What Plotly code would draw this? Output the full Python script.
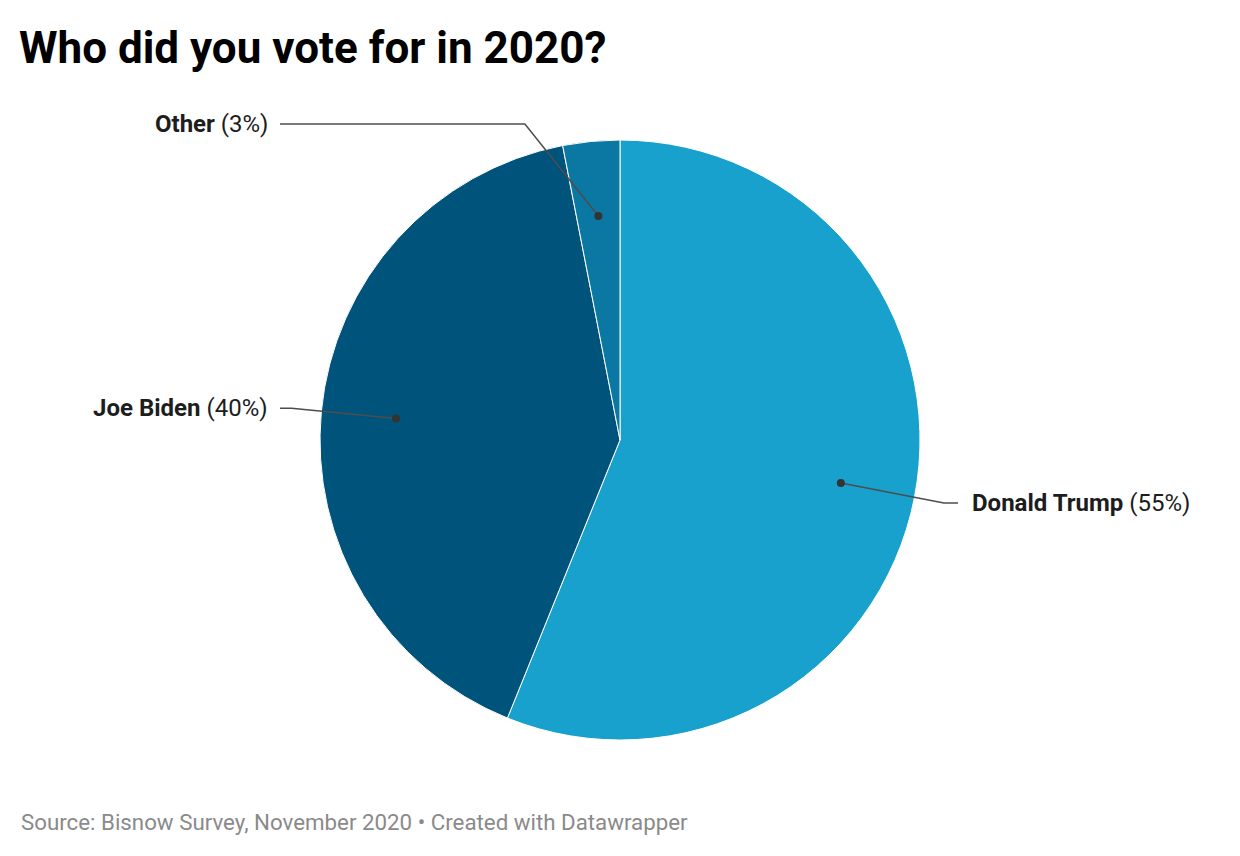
import math
import plotly.graph_objects as go

# survey data
labels = ["Donald Trump", "Joe Biden", "Other"]
values = [55, 40, 3]
colors = ["#18a1cd", "#00537a", "#0a78a3"]

TITLE = "Who did you vote for in 2020?"
SOURCE = "Source: Bisnow Survey, November 2020 \u2022 Created with Datawrapper"

W, H = 1240, 856
CX, CY, R = 620, 440, 300       # pie centre and radius in pixels
DOT_R = 0.75                     # where the leader line starts (fraction of R)
ELBOW_R = 1.1                    # where it bends
LEFT_COL, RIGHT_COL = 280, 958   # end of horizontal leader segments
LABEL_Y = {"Other": 124}         # labels pushed off their natural height


def px(x, y):
    # pixel position (y down) -> paper coordinates
    return x / W, 1 - y / H


fig = go.Figure()
fig.add_trace(go.Pie(
    labels=labels, values=values, sort=False, direction="clockwise", rotation=0,
    marker=dict(colors=colors, line=dict(color="white", width=1)),
    textinfo="none", hoverinfo="label+percent", showlegend=False,
    domain=dict(x=[(CX - R) / W, (CX + R) / W], y=[1 - (CY + R) / H, 1 - (CY - R) / H]),
))

total = sum(values)
cum = 0
shapes, annotations = [], []
for lab, val in zip(labels, values):
    mid = (cum + val / 2) / total
    cum += val
    th = 2 * math.pi * mid
    s, c = math.sin(th), math.cos(th)
    dx, dy = CX + DOT_R * R * s, CY - DOT_R * R * c
    ey = LABEL_Y.get(lab, CY - ELBOW_R * R * c)
    ex = CX + math.copysign(math.sqrt(max((ELBOW_R * R) ** 2 - (ey - CY) ** 2, 0)), s)
    right = s > 0
    col = RIGHT_COL if right else LEFT_COL
    p0, p1, p2 = px(dx, dy), px(ex, ey), px(col, ey)
    shapes.append(dict(
        type="path", xref="paper", yref="paper", layer="above",
        path=f"M{p0[0]},{p0[1]} L{p1[0]},{p1[1]} L{p2[0]},{p2[1]}",
        line=dict(color="#4d4d4d", width=1.5)))
    r = 4
    a, b = px(dx - r, dy - r), px(dx + r, dy + r)
    shapes.append(dict(
        type="circle", xref="paper", yref="paper", layer="above",
        x0=a[0], y0=b[1], x1=b[0], y1=a[1],
        fillcolor="#333333", line=dict(color="#333333", width=0)))
    tx, ty = px(col + (12 if right else -10), ey)
    annotations.append(dict(
        x=tx, y=ty, xref="paper", yref="paper",
        xanchor="left" if right else "right", yanchor="middle", showarrow=False,
        text=f"<b>{lab}</b> ({round(val)}%)",
        font=dict(family="Roboto", size=24, color="#1d1d1d")))

fx, fy = px(19, 822)
annotations.append(dict(
    x=fx, y=fy, xref="paper", yref="paper", xanchor="left", yanchor="middle", showarrow=False,
    text=SOURCE, font=dict(family="Roboto", size=22.3, color="#8a8a8a")))

fig.update_layout(
    width=W, height=H, margin=dict(l=0, r=0, t=0, b=0),
    paper_bgcolor="white", plot_bgcolor="white",
    title=dict(text=f"<b>{TITLE}</b>", x=19 / W, xanchor="left", xref="paper",
               y=1 - 48 / H, yref="container", yanchor="middle",
               font=dict(family="Roboto", size=44, color="#000000")),
    xaxis=dict(visible=False), yaxis=dict(visible=False),
    shapes=shapes, annotations=annotations,
)

fig.write_html("out.html", config={"displayModeBar": False},
               post_script="document.body.style.margin='0';")
